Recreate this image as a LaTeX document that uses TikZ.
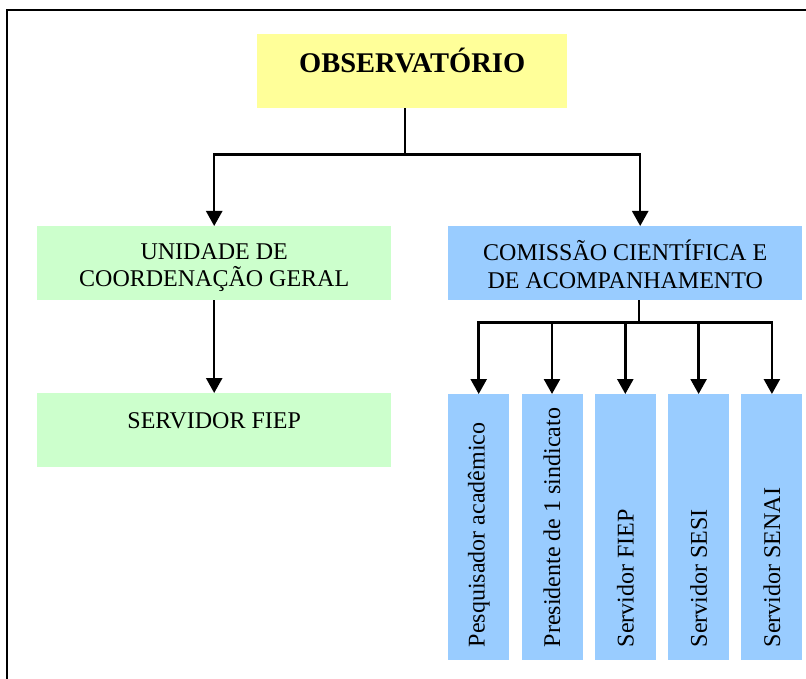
\documentclass[tikz,border=0pt]{standalone}
\usepackage{fontspec}
\setmainfont{Liberation Serif}
\usetikzlibrary{arrows.meta,calc}

\definecolor{boxyellow}{HTML}{FFFF99}
\definecolor{boxgreen}{HTML}{CCFFCC}
\definecolor{boxblue}{HTML}{99CCFF}

\tikzset{
  panel/.style={draw=none, inner sep=0pt, anchor=north west},
  yellowbox/.style={panel, fill=boxyellow, minimum width=310pt, minimum height=74pt},
  greenbox/.style={panel, fill=boxgreen, minimum width=354pt, minimum height=74pt},
  bluebox/.style={panel, fill=boxblue, minimum width=354pt, minimum height=74pt},
  memberbox/.style={panel, fill=boxblue, minimum width=61pt, minimum height=266pt},
  txt/.style={inner sep=0pt, font=\fontsize{24}{26}\selectfont},
  titletxt/.style={inner sep=0pt, font=\fontsize{28.5}{32}\selectfont\bfseries},
  vtxt/.style={txt, rotate=90, anchor=west},
  link/.style={line width=2.5pt, black},
  arrowlink/.style={link, -{Triangle[width=16pt,length=15pt]}}
}

\begin{document}
\begin{tikzpicture}[x=1pt,y=-1pt]
  \useasboundingbox (0,0) rectangle (806,679);

  % outer frame, running past the right and bottom edges
  \begin{scope}
    \clip (0,0) rectangle (806,679);
    \draw[line width=2.5pt] (7,10) rectangle (840,720);
  \end{scope}

  % boxes
  \node[yellowbox] (obs) at (257,34) {};
  \node[greenbox] (uni) at (37,226) {};
  \node[bluebox] (com) at (448,226) {};
  \node[greenbox] (srv) at (37,393) {};
  \foreach \i/\nm in {0/m1,1/m2,2/m3,3/m4,4/m5}{
    \node[memberbox] (\nm) at ({448+73.3*\i},394) {};
  }

  % texts
  \node[titletxt, anchor=base] (obstxt) at ($(obs.north)+(0,39)$) {OBSERVATÓRIO};
  \node[txt, anchor=base] (unitxta) at ($(uni.north)+(0,34)$) {UNIDADE DE};
  \node[txt, anchor=base] (unitxtb) at ($(uni.north)+(0,60)$) {COORDENAÇÃO GERAL};
  \node[txt, anchor=base] (comtxta) at ($(com.north)+(0,35)$) {COMISSÃO CIENTÍFICA E};
  \node[txt, anchor=base] (comtxtb) at ($(com.north)+(0,62)$) {DE ACOMPANHAMENTO};
  \node[txt, anchor=base] (srvtxt) at ($(srv.north)+(0,35)$) {SERVIDOR FIEP};

  \node[vtxt] (m1txt) at ($(m1.south)+(0,-13)$) {Pesquisador acadêmico};
  \node[vtxt] (m2txt) at ($(m2.south)+(0,-13)$) {Presidente de 1 sindicato};
  \node[vtxt] (m3txt) at ($(m3.south)+(0,-13)$) {Servidor FIEP};
  \node[vtxt] (m4txt) at ($(m4.south)+(0,-13)$) {Servidor SESI};
  \node[vtxt] (m5txt) at ($(m5.south)+(0,-13)$) {Servidor SENAI};

  % connectors
  \coordinate (obsout) at ($(obs.south)+(-7,0)$);
  \coordinate (obsbus) at ($(obsout)+(0,46)$);
  \coordinate (comin) at ($(com.north)+(15,0)$);
  \draw[link] (obsout) -- (obsbus);
  \draw[arrowlink] (obsbus) -| (uni.north);
  \draw[arrowlink] (obsbus) -| (comin);

  \draw[arrowlink] (uni.south) -- (srv.north);

  \coordinate (comout) at ($(com.south)+(14,0)$);
  \coordinate (combus) at ($(comout)+(0,22)$);
  \draw[link] (comout) -- (combus);
  \foreach \nm in {m1,m2,m3,m4,m5}{
    \draw[arrowlink] (combus) -| (\nm.north);
  }
\end{tikzpicture}
\end{document}
